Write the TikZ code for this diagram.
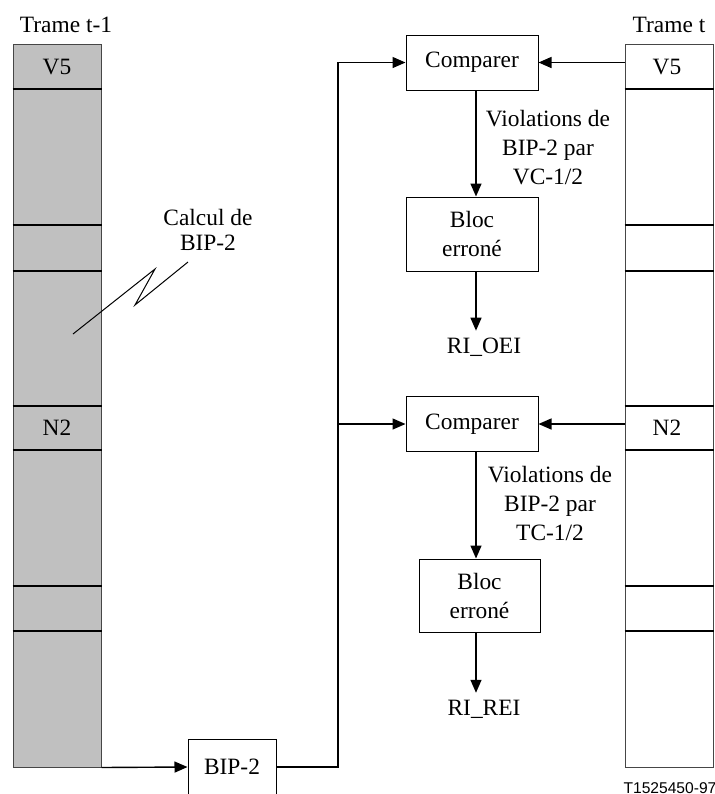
\documentclass[tikz,border=0pt]{standalone}
\usepackage{fontspec}
\setmainfont{Liberation Serif}
\newfontfamily\labelsans{Liberation Sans}
\usetikzlibrary{arrows.meta,positioning}
\definecolor{mygray}{RGB}{192,192,192}
\definecolor{myedge}{RGB}{70,70,70}

\begin{document}
\begin{tikzpicture}[x=0.5pt,y=-0.5pt,
  font=\fontsize{11.7}{14.5}\selectfont,
  frame/.style={draw=myedge,line width=0.5pt,minimum width=44pt,
    minimum height=361.5pt,inner sep=0pt},
  divline/.style={line width=0.8pt},
  box/.style={draw,line width=0.5pt,minimum width=66pt,minimum height=27.5pt,
    align=center,inner sep=0pt},
  arr/.style={line width=0.7pt,-{Triangle[length=6.5pt,width=5.5pt]}},
  wire/.style={line width=0.6pt}]

  \useasboundingbox (0,0) rectangle (715,794);

  % the two frames
  \node[frame,fill=mygray] (left) at (57,405.5) {};
  \node[frame] (right) at (669,405.5) {};
  \foreach \y in {89,225,271,406,450,586,631}
    \draw[divline] (left.west |- 0,\y) -- (left.east |- 0,\y)
      (right.west |- 0,\y) -- (right.east |- 0,\y);

  \node (titleL) at (66,25) {Trame t-1};
  \node (titleR) at (669,25) {Trame t};
  \node (v5L) at (57,67) {V5};
  \node (n2L) at (57,428) {N2};
  \node (v5R) at (667,67) {V5};
  \node (n2R) at (667,428) {N2};

  % processing boxes
  \node[box] (cmp1) at (472,62.5) {Comparer};
  \node[box,minimum height=37pt] (bloc1) at (472,234) {Bloc\\erroné};
  \node[box] (cmp2) at (472,424) {Comparer};
  \node[box,minimum width=60.5pt,minimum height=36.5pt] (bloc2) at (479.5,595.5) {Bloc\\erroné};
  \node[box,minimum width=44pt,minimum height=28pt] (bip) at (232,767) {BIP-2};

  \node (oei) at (484,347) {RI\_OEI};
  \node (rei) at (484,709) {RI\_REI};

  \node[align=center] (viol1) at (548,148) {Violations de\\BIP-2 par\\VC-1/2};
  \node[align=center] (viol2) at (550,503) {Violations de\\BIP-2 par\\TC-1/2};
  \node[align=center,font=\fontsize{11.7}{12.5}\selectfont] (calc) at (208,229.5) {Calcul de\\BIP-2};
  \node[font=\labelsans\fontsize{7.8}{9}\selectfont] (ref) at (670,788) {T1525450-97};

  % pointer from the label into frame t-1
  \coordinate (zzA) at (73,334);
  \coordinate (zzB) at (155,269);
  \coordinate (zzC) at (135,305);
  \coordinate (zzD) at (188,262);
  \draw[line width=0.5pt] (zzA) -- (zzB) -- (zzC) -- (zzD);

  % data path
  \coordinate (split) at (338,424);
  \coordinate (axis) at (476,0);
  \draw[arr] (left.south east) -- (bip.west);
  \draw[wire] (bip.east) -| (split);
  \draw[arr] (split) |- (cmp1.west);
  \draw[arr] (split) -- (cmp2.west);
  \draw[arr] (cmp1 -| right.west) -- (cmp1.east);
  \draw[arr] (cmp2 -| right.west) -- (cmp2.east);

  % draw checks for each comparer
  \draw[arr] (axis |- cmp1.south) -- (axis |- bloc1.north);
  \draw[arr] (axis |- bloc1.south) -- (axis |- oei.north);
  \draw[arr] (axis |- cmp2.south) -- (axis |- bloc2.north);
  \draw[arr] (axis |- bloc2.south) -- (axis |- rei.north);

\end{tikzpicture}
\end{document}
